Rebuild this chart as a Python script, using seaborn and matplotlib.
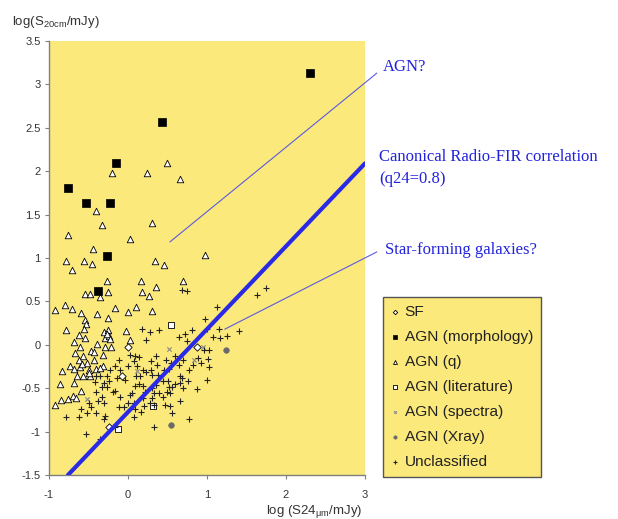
import matplotlib
matplotlib.use("Agg")
import matplotlib.pyplot as plt
import seaborn as sns
import numpy as np
import pandas as pd

# ---------------- data ----------------
agn_morph_x = [2.30, 0.43, -0.15, -0.76, -0.53, -0.23, -0.26, -0.38]
agn_morph_y = [3.13, 2.57, 2.10, 1.81, 1.63, 1.63, 1.025, 0.62]

agn_q_x = [0.49, -0.20, 0.24, 0.66, -0.41, -0.33, 0.31, -0.76, 0.02, -0.44,
           0.98, -0.78, -0.56, -0.46, -0.71, 0.34, 0.45, -0.26, 0.17, 0.69,
           0.35, -0.25, -0.54, -0.48, -0.35, 0.18, 0.26, -0.80, -0.92, -0.71,
           -0.60, -0.17, 0.00, 0.10, 0.31, -0.39, -0.25, -0.54, -0.53, -0.79,
           -0.62, -0.56, -0.31, -0.25, -0.03, -0.68, -0.54, -0.39, 0.02, -0.29,
           -0.24, -0.61, -0.29, -0.21, -0.47, -0.43, -0.67, -0.32, -0.57, -0.62,
           -0.52, -0.43, -0.32, -0.84, -0.73, -0.68, -0.61, -0.49, -0.41, -0.36,
           -0.64, -0.57, -0.48, -0.68, -0.86, -0.59, -0.76, -0.70, -0.66, -0.85,
           -0.92, -0.27, -0.23, -0.58, -0.50]
agn_q_y = [2.10, 1.98, 1.98, 1.91, 1.545, 1.38, 1.40, 1.27, 1.22, 1.10,
           1.04, 0.96, 0.96, 0.93, 0.86, 0.97, 0.92, 0.73, 0.74, 0.74,
           0.67, 0.61, 0.58, 0.58, 0.545, 0.61, 0.565, 0.46, 0.40, 0.41,
           0.37, 0.42, 0.38, 0.44, 0.39, 0.35, 0.31, 0.28, 0.24, 0.17,
           0.115, 0.18, 0.15, 0.17, 0.16, 0.03, 0.08, 0.01, 0.05, 0.08,
           0.10, -0.02, -0.02, -0.02, -0.07, -0.08, -0.10, -0.12, -0.13, -0.17,
           -0.21, -0.18, -0.24, -0.30, -0.24, -0.28, -0.26, -0.29, -0.28, -0.27,
           -0.365, -0.36, -0.365, -0.44, -0.45, -0.53, -0.62, -0.59, -0.61, -0.64,
           -0.69, 0.12, 0.07, -0.22, -0.33]

sf_x = [0.00, -0.07, -0.24, 0.87]
sf_y = [-0.03, -0.36, -0.95, -0.03]

agn_lit_x = [0.54, -0.13, 0.32]
agn_lit_y = [0.23, -0.97, -0.70]

agn_spec_x = [0.52, 0.12, 0.95, 0.84, -0.52]
agn_spec_y = [-0.05, -0.30, -0.03, -0.18, -0.62]

agn_xray_x = [0.54, 1.24]
agn_xray_y = [-0.92, -0.065]

uncl_x = [1.63, 1.75, 1.13, 0.68, 0.75, 0.98, 1.00, 1.15, 1.40, 1.08, 1.16, 1.25,
          0.81, 0.72, 0.64, 0.75, 0.39, 0.18, 0.28, 0.23, 0.96, 1.03, 0.89, 0.93,
          1.01, 1.03, 1.00, 0.87, 0.77, 0.82, 0.76, 0.70, 0.65, 0.66, 0.59, 0.54,
          0.48, 0.52, 0.45, 0.37, 0.29, 0.36, 0.31, 0.38, 0.44, 0.50, 0.52, 0.56,
          0.60, 0.66, 0.69, 0.68, 0.49, 0.39, 0.44, 0.53, 0.36, 0.30, 0.33, 0.30,
          0.28, 0.33, 0.47, 0.53, 0.56, 0.22, 0.19, 0.19, 0.15, 0.10, 0.19, 0.23,
          0.29, 0.07, 0.09, 0.02, 0.14, 0.12, 0.00, -0.12, -0.04, 0.09, 0.14, 0.05,
          0.02, -0.10, 0.00, 0.07, 0.09, -0.05, -0.12, 0.07, 0.20, 0.17, 0.66, 0.77,
          0.33, -0.14, -0.10, -0.17, -0.23, -0.27, -0.30, -0.27, -0.33, -0.40, -0.33,
          -0.38, -0.30, -0.19, -0.17, -0.50, -0.47, -0.52, -0.59, -0.62, -0.78, -0.40,
          -0.29, -0.30, -0.53, -0.36, -0.17, -0.24, -0.42, -0.40, -0.36]
uncl_y = [0.57, 0.66, 0.43, 0.63, 0.62, 0.30, 0.18, 0.18, 0.16, 0.09, 0.08, 0.10,
          0.17, 0.12, 0.09, 0.04, 0.17, 0.18, 0.15, 0.05, -0.06, -0.06, -0.15, -0.21,
          -0.16, -0.26, -0.40, -0.51, -0.29, -0.23, -0.42, -0.17, -0.23, -0.36, -0.13, -0.21,
          -0.17, -0.28, -0.29, -0.23, -0.19, -0.13, -0.35, -0.35, -0.42, -0.42, -0.49, -0.49,
          -0.45, -0.44, -0.50, -0.38, -0.54, -0.56, -0.60, -0.56, -0.46, -0.50, -0.55, -0.61,
          -0.67, -0.69, -0.69, -0.71, -0.79, -0.54, -0.61, -0.48, -0.36, -0.36, -0.29, -0.31,
          -0.29, -0.19, -0.13, -0.12, -0.14, -0.25, -0.25, -0.17, -0.40, -0.47, -0.45, -0.56,
          -0.58, -0.60, -0.67, -0.67, -0.74, -0.72, -0.72, -0.83, -0.71, -0.77, -0.65, -0.86,
          -0.95, -0.38, -0.29, -0.25, -0.29, -0.36, -0.44, -0.49, -0.49, -0.54, -0.60,
          -0.65, -0.67, -0.54, -0.53, -0.67, -0.72, -0.79, -0.74, -0.83, -0.83, -0.78,
          -0.82, -0.86, -1.03, -1.09, -0.95, -0.42, -0.43, -0.36, -0.36]

# canonical radio-FIR correlation line (q24 = 0.8)
corr_x = [-0.76, 3.0]
corr_y = [-1.5, 2.09]

# annotation pointer lines (data coords, extend outside axes)
agn_ptr_x = [0.53, 3.15]
agn_ptr_y = [1.185, 3.13]
sfg_ptr_x = [1.225, 3.15]
sfg_ptr_y = [0.18, 1.07]

x_ticks = [-1, 0, 1, 2, 3]
y_ticks = [-1.5, -1, -0.5, 0, 0.5, 1, 1.5, 2, 2.5, 3, 3.5]

# ---------------- style ----------------
sns.set_style("white")
plt.rcParams['font.family'] = ['Liberation Sans', 'DejaVu Sans']
plt.rcParams['mathtext.default'] = 'regular'

fig = plt.figure(figsize=(6.18, 5.19), dpi=100)
ax = fig.add_axes([49/618, 1-475/519, (365-49)/618, (475-41)/519])
ax.set_facecolor('#FCE97B')

def df(x, y):
    return pd.DataFrame({'x': x, 'y': y})

sns.scatterplot(data=df(sf_x, sf_y), x='x', y='y', ax=ax, marker='D', s=14,
                color='white', edgecolor='black', linewidth=0.6, label='SF', zorder=3)
sns.scatterplot(data=df(agn_morph_x, agn_morph_y), x='x', y='y', ax=ax, marker='s', s=30,
                color='black', edgecolor='black', linewidth=0.5, label='AGN (morphology)', zorder=4)
sns.scatterplot(data=df(agn_q_x, agn_q_y), x='x', y='y', ax=ax, marker='^', s=22,
                color='white', edgecolor='black', linewidth=0.6, label='AGN (q)', zorder=3)
sns.scatterplot(data=df(agn_lit_x, agn_lit_y), x='x', y='y', ax=ax, marker='s', s=14,
                color='white', edgecolor='black', linewidth=0.6, label='AGN (literature)', zorder=3)
sns.scatterplot(data=df(agn_spec_x, agn_spec_y), x='x', y='y', ax=ax, marker='x', s=10,
                color='#8a8a8a', linewidth=0.8, label='AGN (spectra)', zorder=3)
sns.scatterplot(data=df(agn_xray_x, agn_xray_y), x='x', y='y', ax=ax, marker='o', s=16,
                color='#6a6a6a', edgecolor='#6a6a6a', linewidth=0.5, label='AGN (Xray)', zorder=3)
sns.scatterplot(data=df(uncl_x, uncl_y), x='x', y='y', ax=ax, marker='+', s=16,
                color='#222222', linewidth=0.8, label='Unclassified', zorder=3)

sns.lineplot(x=corr_x, y=corr_y, ax=ax, color='#2a2ae6', linewidth=3.0, zorder=5,
             legend=False, estimator=None)
ax.plot(agn_ptr_x, agn_ptr_y, color='#5a5ae0', linewidth=0.8, clip_on=False, zorder=5)
ax.plot(sfg_ptr_x, sfg_ptr_y, color='#5a5ae0', linewidth=0.8, clip_on=False, zorder=5)

ax.set_xlim(-1, 3)
ax.set_ylim(-1.5, 3.5)
ax.set_xticks(x_ticks)
ax.set_yticks(y_ticks)
ax.set_xticklabels([f"{v:g}" for v in x_ticks])
ax.set_yticklabels([f"{v:g}" for v in y_ticks])
ax.tick_params(axis='both', labelsize=8, labelcolor='#333333', direction='out',
               length=3, width=0.8, color='#808080', left=True, bottom=True)
ax.tick_params(axis='y', pad=3)
ax.tick_params(axis='x', pad=8)
for s in ['top', 'right']:
    ax.spines[s].set_visible(False)
for s in ['left', 'bottom']:
    ax.spines[s].set_color('#808080')
    ax.spines[s].set_linewidth(1.0)
ax.set_xlabel('')
ax.set_ylabel('')

fig.text(12/618, 1-22/519, r'log(S$_{20cm}$/mJy)', fontsize=9.5, color='#333333',
         ha='left', va='center')
fig.text(362/618, 1-511/519, r'log (S24$_{\mu m}$/mJy)', fontsize=9.5, color='#333333',
         ha='right', va='center')

blue = '#2222dd'
fig.text(383/618, 1-67/519, 'AGN?', family='Liberation Serif', fontsize=12, color=blue,
         ha='left', va='center')
fig.text(379/618, 1-157/519, 'Canonical Radio-FIR correlation', family='Liberation Serif',
         fontsize=12, color=blue, ha='left', va='center')
fig.text(379/618, 1-179/519, '(q24=0.8)', family='Liberation Serif', fontsize=12,
         color=blue, ha='left', va='center')
fig.text(385/618, 1-250/519, 'Star-forming galaxies?', family='Liberation Serif',
         fontsize=12, color=blue, ha='left', va='center')

leg = ax.legend(loc='upper left', bbox_to_anchor=(383/618, 1-297/519),
                bbox_transform=fig.transFigure, frameon=True, fancybox=False,
                fontsize=11.1, markerscale=0.6, handletextpad=0.3, handlelength=0.6,
                labelspacing=0.72, borderpad=0.5, borderaxespad=0)
leg.get_frame().set_facecolor('#FCE97B')
leg.get_frame().set_edgecolor('#555555')
leg.get_frame().set_linewidth(1.0)
leg.get_frame().set_alpha(1)
for t in leg.get_texts():
    t.set_color('#222222')

fig.savefig('out.png', dpi=100, facecolor='white')
